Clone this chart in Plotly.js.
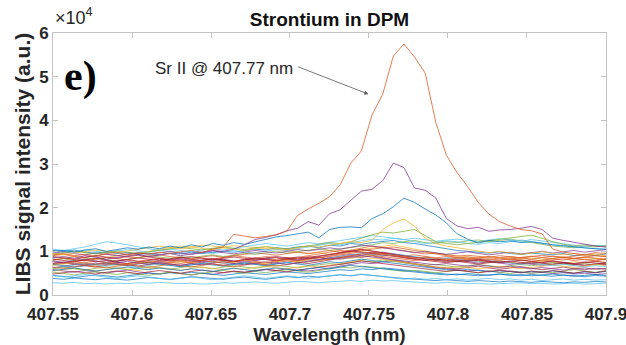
<!DOCTYPE html>
<html>
<head>
<meta charset="utf-8">
<script src="https://cdn.plot.ly/plotly-3.0.1.min.js"></script>
<style>html,body{margin:0;padding:0;background:#fff;}#chart{width:626px;height:345px;}</style>
</head>
<body>
<div id="chart"></div>
<script>
// Wavelength grid (nm)
const wavelength = [407.5500,407.5567,407.5635,407.5702,407.5769,407.5837,407.5904,407.5971,407.6038,407.6106,407.6173,407.6240,407.6308,407.6375,407.6442,407.6510,407.6577,407.6644,407.6712,407.6779,407.6846,407.6913,407.6981,407.7048,407.7115,407.7183,407.7250,407.7317,407.7385,407.7452,407.7519,407.7587,407.7654,407.7721,407.7788,407.7856,407.7923,407.7990,407.8058,407.8125,407.8192,407.8260,407.8327,407.8394,407.8462,407.8529,407.8596,407.8663,407.8731,407.8798,407.8865,407.8933,407.9000];

// Intensities in units of 10^4 a.u.
const bg01 = [1.02,1.00,1.03,0.98,0.96,0.99,0.95,0.97,0.93,0.95,0.92,0.96,0.94,0.98,0.95,0.97,1.00,0.98,1.02,1.05,1.03,1.08,1.06,1.10,1.12,1.08,1.14,1.12,1.18,1.16,1.20,1.22,1.25,1.20,1.18,1.14,1.10,1.06,1.02,1.00,0.98,0.96,0.99,0.95,0.93,0.96,0.94,0.92,0.95,0.90,0.93,0.91,0.94];
const bg02 = [0.72,0.75,0.70,0.74,0.78,0.73,0.76,0.71,0.74,0.77,0.72,0.75,0.79,0.74,0.78,0.76,0.80,0.77,0.82,0.79,0.84,0.81,0.86,0.83,0.88,0.85,0.90,0.94,0.98,1.02,1.05,1.08,1.10,1.06,1.02,0.97,0.93,0.90,0.86,0.84,0.81,0.83,0.80,0.82,0.79,0.81,0.78,0.80,0.83,0.79,0.82,0.80,0.84];
const bg03 = [0.86,0.84,0.88,0.85,0.82,0.86,0.89,0.92,0.96,1.00,1.05,1.08,1.12,1.10,1.14,1.12,1.10,1.13,1.11,1.08,1.06,1.04,1.02,0.98,0.95,0.97,0.93,0.96,1.00,1.04,1.08,1.12,1.15,1.10,1.05,1.00,0.96,0.92,0.90,0.87,0.85,0.88,0.84,0.86,0.83,0.85,0.82,0.84,0.87,0.83,0.86,0.84,0.82];
const bg04 = [0.58,0.55,0.52,0.56,0.53,0.50,0.54,0.57,0.53,0.50,0.48,0.52,0.49,0.46,0.50,0.47,0.51,0.54,0.52,0.55,0.58,0.56,0.60,0.57,0.55,0.58,0.62,0.66,0.70,0.74,0.72,0.76,0.78,0.74,0.70,0.66,0.62,0.60,0.58,0.55,0.57,0.54,0.52,0.55,0.53,0.50,0.52,0.49,0.51,0.48,0.50,0.47,0.49];
const bg05 = [0.80,0.83,0.79,0.82,0.85,0.81,0.78,0.82,0.86,0.90,0.87,0.84,0.88,0.85,0.89,0.92,0.88,0.91,0.95,0.93,0.97,1.00,0.96,0.99,1.03,1.06,1.02,1.05,1.08,1.12,1.15,1.20,1.18,1.22,1.25,1.20,1.18,1.22,1.20,1.24,1.26,1.22,1.25,1.28,1.24,1.20,1.16,1.12,1.10,1.08,1.12,1.10,1.14];
const bg06 = [0.28,0.27,0.29,0.26,0.27,0.25,0.27,0.26,0.28,0.27,0.29,0.28,0.26,0.27,0.25,0.26,0.28,0.27,0.29,0.30,0.28,0.27,0.29,0.31,0.30,0.28,0.30,0.32,0.33,0.31,0.34,0.32,0.33,0.31,0.30,0.28,0.27,0.29,0.28,0.26,0.27,0.25,0.26,0.27,0.28,0.26,0.27,0.25,0.26,0.27,0.25,0.26,0.27];
const bg07 = [0.62,0.66,0.70,0.67,0.64,0.68,0.72,0.69,0.66,0.70,0.74,0.71,0.68,0.72,0.75,0.71,0.68,0.72,0.76,0.73,0.70,0.74,0.78,0.75,0.72,0.76,0.80,0.84,0.88,0.86,0.90,0.85,0.80,0.76,0.72,0.68,0.64,0.62,0.60,0.63,0.66,0.62,0.59,0.62,0.65,0.61,0.58,0.61,0.64,0.60,0.62,0.59,0.61];
const bg08 = [0.45,0.42,0.40,0.43,0.46,0.44,0.41,0.44,0.47,0.50,0.48,0.51,0.49,0.52,0.50,0.47,0.45,0.48,0.51,0.49,0.47,0.50,0.53,0.51,0.49,0.52,0.55,0.58,0.56,0.60,0.58,0.62,0.60,0.57,0.54,0.52,0.50,0.48,0.46,0.49,0.47,0.45,0.48,0.46,0.44,0.47,0.45,0.43,0.46,0.44,0.42,0.45,0.43];
const bg09 = [0.90,0.93,0.88,0.86,0.90,0.94,0.91,0.87,0.85,0.89,0.92,0.88,0.86,0.83,0.87,0.90,0.86,0.89,0.93,0.97,0.94,0.91,0.95,0.98,0.95,0.99,1.02,0.98,1.03,1.08,1.12,1.09,1.05,1.02,0.98,0.94,0.96,0.92,0.89,0.91,0.88,0.86,0.90,0.87,0.85,0.88,0.91,0.88,0.86,0.89,0.92,0.90,0.88];
const bg10 = [0.68,0.71,0.74,0.70,0.67,0.71,0.68,0.72,0.75,0.72,0.69,0.73,0.76,0.73,0.70,0.74,0.77,0.74,0.71,0.75,0.72,0.76,0.79,0.76,0.80,0.78,0.82,0.86,0.84,0.88,0.92,0.95,0.92,0.88,0.84,0.86,0.82,0.79,0.77,0.80,0.76,0.74,0.77,0.75,0.73,0.76,0.78,0.75,0.73,0.76,0.74,0.77,0.75];
const bg11 = [0.78,0.75,0.79,0.82,0.78,0.75,0.78,0.81,0.77,0.74,0.77,0.80,0.83,0.79,0.76,0.79,0.82,0.78,0.75,0.79,0.82,0.86,0.83,0.80,0.84,0.81,0.85,0.89,0.93,0.90,0.95,0.98,0.94,0.90,0.86,0.83,0.80,0.77,0.80,0.76,0.73,0.76,0.73,0.70,0.73,0.71,0.68,0.71,0.74,0.70,0.68,0.71,0.69];
const bg12 = [0.60,0.63,0.60,0.57,0.61,0.64,0.61,0.58,0.62,0.65,0.62,0.59,0.63,0.66,0.63,0.60,0.64,0.67,0.64,0.61,0.65,0.68,0.65,0.62,0.66,0.69,0.72,0.70,0.74,0.78,0.76,0.80,0.77,0.74,0.71,0.68,0.70,0.67,0.64,0.67,0.70,0.67,0.64,0.67,0.70,0.67,0.71,0.74,0.71,0.68,0.72,0.69,0.73];
const bg13 = [0.98,1.02,1.06,1.10,1.16,1.22,1.19,1.15,1.10,1.06,1.02,1.00,0.97,1.01,0.98,0.95,0.99,1.02,0.98,0.96,1.00,1.04,1.02,1.06,1.10,1.14,1.18,1.15,1.20,1.24,1.28,1.26,1.30,1.27,1.22,1.18,1.20,1.24,1.22,1.18,1.16,1.20,1.18,1.22,1.26,1.22,1.18,1.15,1.12,1.10,1.08,1.06,1.04];
const bg14 = [0.76,0.73,0.77,0.80,0.76,0.79,0.75,0.72,0.76,0.79,0.82,0.78,0.81,0.77,0.80,0.83,0.79,0.76,0.80,0.84,0.81,0.78,0.82,0.79,0.83,0.86,0.82,0.86,0.90,0.94,0.98,0.95,0.90,0.86,0.82,0.79,0.76,0.74,0.77,0.74,0.71,0.74,0.77,0.74,0.71,0.75,0.72,0.70,0.73,0.70,0.68,0.71,0.73];
const bg15 = [0.38,0.36,0.39,0.37,0.35,0.38,0.36,0.34,0.37,0.40,0.38,0.36,0.39,0.42,0.40,0.38,0.36,0.39,0.41,0.38,0.36,0.39,0.42,0.40,0.43,0.41,0.44,0.46,0.44,0.47,0.45,0.42,0.40,0.38,0.36,0.35,0.33,0.35,0.33,0.31,0.33,0.31,0.30,0.32,0.30,0.29,0.31,0.30,0.28,0.30,0.29,0.31,0.30];
const bg16 = [0.80,0.84,0.81,0.78,0.82,0.86,0.83,0.80,0.77,0.81,0.84,0.80,0.77,0.81,0.85,0.82,0.86,0.90,0.87,0.84,0.88,0.85,0.82,0.86,0.90,0.94,0.97,1.02,1.00,1.05,1.00,0.96,0.93,0.89,0.92,0.88,0.85,0.88,0.85,0.82,0.85,0.88,0.85,0.82,0.86,0.89,0.86,0.83,0.87,0.84,0.87,0.90,0.88];
const bg17 = [0.55,0.58,0.61,0.58,0.55,0.59,0.62,0.59,0.56,0.60,0.63,0.60,0.57,0.61,0.64,0.61,0.58,0.62,0.59,0.63,0.66,0.62,0.60,0.64,0.67,0.64,0.68,0.72,0.76,0.80,0.84,0.82,0.78,0.74,0.70,0.67,0.64,0.62,0.65,0.62,0.60,0.63,0.66,0.63,0.60,0.63,0.66,0.69,0.66,0.63,0.66,0.70,0.68];
const bg18 = [0.96,0.99,0.95,0.92,0.96,0.93,0.90,0.94,0.97,0.93,0.96,1.00,0.96,0.93,0.97,1.01,0.97,0.94,0.98,1.02,0.99,0.96,1.00,1.04,1.01,1.05,1.08,1.05,1.10,1.14,1.12,1.08,1.04,1.00,0.97,1.00,0.96,0.93,0.96,0.99,0.95,0.92,0.95,0.98,0.94,0.97,1.00,0.96,0.99,1.02,0.98,1.01,1.04];
const bg19 = [0.52,0.49,0.46,0.50,0.53,0.50,0.47,0.51,0.48,0.45,0.49,0.52,0.49,0.46,0.50,0.53,0.56,0.53,0.50,0.54,0.51,0.55,0.58,0.55,0.52,0.56,0.60,0.64,0.62,0.66,0.64,0.60,0.57,0.54,0.57,0.54,0.51,0.54,0.57,0.54,0.51,0.55,0.52,0.49,0.53,0.50,0.54,0.51,0.55,0.58,0.55,0.52,0.56];
const bg20 = [0.62,0.65,0.68,0.72,0.69,0.66,0.70,0.67,0.64,0.68,0.71,0.68,0.65,0.69,0.72,0.76,0.73,0.70,0.74,0.71,0.68,0.72,0.75,0.72,0.76,0.80,0.84,0.88,0.92,0.96,0.93,0.90,0.94,0.91,0.88,0.85,0.82,0.85,0.82,0.79,0.76,0.79,0.76,0.73,0.70,0.73,0.70,0.67,0.70,0.67,0.64,0.67,0.65];
const bg21 = [0.88,0.85,0.82,0.86,0.90,0.87,0.84,0.88,0.91,0.87,0.84,0.81,0.85,0.88,0.84,0.81,0.84,0.87,0.84,0.81,0.85,0.88,0.85,0.82,0.86,0.89,0.93,0.97,1.01,0.98,0.95,0.92,0.88,0.85,0.82,0.79,0.82,0.79,0.76,0.79,0.82,0.78,0.75,0.78,0.75,0.72,0.75,0.78,0.75,0.72,0.76,0.73,0.70];
const bg22 = [0.70,0.67,0.64,0.67,0.70,0.73,0.70,0.67,0.71,0.74,0.71,0.68,0.65,0.69,0.72,0.69,0.66,0.70,0.73,0.70,0.67,0.71,0.74,0.71,0.68,0.72,0.76,0.74,0.78,0.82,0.79,0.76,0.73,0.70,0.66,0.63,0.60,0.58,0.56,0.59,0.56,0.53,0.56,0.54,0.51,0.54,0.52,0.55,0.53,0.50,0.53,0.51,0.54];
const bg23 = [0.64,0.61,0.65,0.68,0.65,0.62,0.66,0.69,0.66,0.63,0.67,0.70,0.67,0.64,0.68,0.71,0.68,0.65,0.69,0.72,0.69,0.66,0.70,0.73,0.76,0.79,0.82,0.86,0.90,0.94,0.91,0.88,0.85,0.82,0.79,0.82,0.79,0.76,0.79,0.82,0.79,0.76,0.80,0.83,0.80,0.77,0.80,0.83,0.80,0.84,0.81,0.78,0.82];
const bg24 = [0.48,0.51,0.54,0.51,0.48,0.52,0.55,0.52,0.49,0.53,0.56,0.53,0.50,0.54,0.57,0.54,0.51,0.55,0.52,0.56,0.59,0.56,0.53,0.57,0.60,0.63,0.66,0.70,0.74,0.78,0.75,0.72,0.68,0.65,0.62,0.60,0.57,0.54,0.57,0.54,0.51,0.54,0.57,0.54,0.51,0.55,0.52,0.56,0.53,0.50,0.54,0.51,0.55];
const bg25 = [0.44,0.41,0.44,0.47,0.44,0.41,0.38,0.41,0.44,0.41,0.38,0.35,0.38,0.41,0.38,0.35,0.38,0.41,0.44,0.41,0.38,0.41,0.44,0.41,0.38,0.41,0.44,0.47,0.44,0.48,0.45,0.42,0.39,0.36,0.39,0.36,0.38,0.35,0.37,0.34,0.36,0.38,0.35,0.37,0.34,0.36,0.33,0.35,0.37,0.34,0.36,0.34,0.35];
const bg26 = [0.72,0.75,0.72,0.69,0.73,0.70,0.74,0.77,0.73,0.70,0.74,0.71,0.68,0.72,0.69,0.73,0.76,0.72,0.69,0.73,0.76,0.73,0.70,0.74,0.77,0.81,0.85,0.82,0.86,0.90,0.87,0.84,0.81,0.78,0.75,0.72,0.69,0.72,0.69,0.66,0.69,0.66,0.63,0.66,0.63,0.60,0.63,0.60,0.57,0.60,0.58,0.61,0.59];
const bg27 = [0.56,0.59,0.62,0.58,0.55,0.58,0.61,0.64,0.61,0.58,0.62,0.59,0.56,0.60,0.57,0.54,0.58,0.61,0.58,0.55,0.59,0.62,0.59,0.56,0.60,0.63,0.60,0.64,0.68,0.65,0.62,0.60,0.58,0.55,0.52,0.50,0.48,0.46,0.48,0.46,0.44,0.46,0.48,0.45,0.47,0.44,0.46,0.48,0.45,0.43,0.45,0.47,0.45];
const bg28 = [0.82,0.79,0.76,0.80,0.84,0.80,0.77,0.81,0.85,0.82,0.79,0.83,0.86,0.82,0.79,0.83,0.80,0.77,0.81,0.85,0.82,0.79,0.83,0.87,0.84,0.88,0.92,0.96,1.00,1.04,1.01,0.97,0.93,0.89,0.86,0.83,0.80,0.83,0.80,0.77,0.80,0.77,0.74,0.77,0.80,0.77,0.74,0.77,0.74,0.71,0.74,0.77,0.74];
const bg29 = [1.05,1.02,0.99,1.03,1.00,0.97,1.01,1.04,1.01,0.98,1.02,1.05,1.02,0.99,1.03,1.06,1.03,1.07,1.10,1.14,1.18,1.15,1.12,1.16,1.20,1.17,1.21,1.25,1.28,1.32,1.36,1.33,1.30,1.27,1.30,1.26,1.23,1.26,1.28,1.25,1.22,1.26,1.29,1.26,1.23,1.27,1.24,1.20,1.17,1.14,1.11,1.14,1.12];
const bg30 = [0.70,0.73,0.76,0.73,0.70,0.74,0.71,0.68,0.72,0.75,0.78,0.75,0.72,0.76,0.79,0.76,0.73,0.77,0.80,0.77,0.74,0.78,0.81,0.78,0.82,0.85,0.88,0.92,0.95,0.99,0.96,0.93,0.90,0.87,0.84,0.87,0.84,0.81,0.84,0.87,0.84,0.81,0.85,0.88,0.85,0.82,0.86,0.89,0.86,0.83,0.87,0.84,0.81];
const sampleGreen = [0.94,0.97,1.00,0.97,0.94,0.98,1.01,0.98,0.95,0.99,1.02,1.06,1.09,1.06,1.03,1.07,1.10,1.07,1.04,1.08,1.11,1.08,1.05,1.09,1.12,1.16,1.20,1.18,1.22,1.30,1.38,1.44,1.42,1.46,1.50,1.36,1.22,1.18,1.15,1.18,1.21,1.24,1.27,1.30,1.34,1.37,1.30,1.22,1.16,1.12,1.15,1.12,1.10];
const sampleYellow = [0.95,0.92,0.96,0.99,1.03,1.00,0.97,1.01,1.05,1.08,1.12,1.09,1.06,1.10,1.07,1.04,1.08,1.05,1.02,1.06,1.10,1.07,1.04,1.08,1.12,1.10,1.14,1.18,1.22,1.20,1.25,1.50,1.65,1.74,1.58,1.30,1.18,1.12,1.08,1.04,1.00,0.97,1.00,0.96,0.93,0.96,0.99,0.95,0.92,0.95,0.91,0.94,0.90];
const sampleBlue = [1.00,1.02,0.98,1.03,1.06,1.00,1.04,1.08,1.05,1.10,1.06,1.12,1.08,1.15,1.10,1.18,1.14,1.20,1.16,1.22,1.28,1.33,1.36,1.40,1.44,1.31,1.50,1.55,1.56,1.54,1.75,1.86,2.02,2.22,2.12,1.97,1.83,1.65,1.40,1.28,1.19,1.25,1.22,1.24,1.20,1.22,1.18,1.15,1.13,1.10,1.08,1.06,1.05];
const samplePurple = [0.85,0.88,0.84,0.90,0.87,0.82,0.86,0.90,0.93,0.88,0.92,0.95,0.90,0.94,0.98,1.02,1.00,1.05,1.15,1.27,1.32,1.38,1.47,1.53,1.68,1.60,1.86,1.95,2.17,2.38,2.42,2.62,3.02,2.92,2.45,2.40,2.22,1.75,1.58,1.52,1.55,1.46,1.49,1.50,1.53,1.57,1.50,1.30,1.25,1.21,1.17,1.12,1.10];
const sampleOrange = [0.92,0.95,0.90,0.93,0.88,0.95,0.98,0.92,0.96,0.94,0.98,0.95,0.99,1.02,0.97,1.05,1.10,1.39,1.35,1.31,1.34,1.38,1.47,1.82,1.97,2.10,2.25,2.52,3.02,3.30,4.12,4.60,5.47,5.75,5.45,5.08,3.95,3.20,2.80,2.48,2.12,1.85,1.68,1.58,1.50,1.47,1.40,1.05,0.98,0.95,0.92,0.97,0.95];

const yTicks = [0,1,2,3,4,5,6];
const xTicks = [407.55,407.6,407.65,407.7,407.75,407.8,407.85,407.9];
const xTickText = ['407.55','407.6','407.65','407.7','407.75','407.8','407.85','407.9'];

const C = ['#0072BD','#D95319','#EDB120','#7E2F8E','#77AC30','#4DBEEE','#A2142F'];
const background = [bg01,bg02,bg03,bg04,bg05,bg06,bg07,bg08,bg09,bg10,bg11,bg12,bg13,bg14,bg15,bg16,bg17,bg18,bg19,bg20,bg21,bg22,bg23,bg24,bg25,bg26,bg27,bg28,bg29,bg30];
const bgColors = [C[0],C[1],C[2],C[3],C[4],C[5],C[6],C[0],C[1],C[2],C[3],C[4],C[5],C[6],C[0],C[1],C[2],C[3],C[4],C[5],C[6],C[0],C[1],C[6],C[5],C[3],C[0],C[6],C[5],C[1]];

const traces = [];
background.forEach((s,i)=>{
  traces.push({x: wavelength, y: s, type:'scatter', mode:'lines', line:{color:bgColors[i], width:1}, opacity:0.7, hoverinfo:'skip'});
});
[[sampleGreen,C[4]],[sampleYellow,C[2]],[sampleBlue,C[0]],[samplePurple,C[3]],[sampleOrange,C[1]]].forEach(([s,c])=>{
  traces.push({x: wavelength, y: s, type:'scatter', mode:'lines', line:{color:c, width:1}, opacity:0.75, hoverinfo:'skip'});
});

const tickFont = {family:'Arial, "Liberation Sans", sans-serif', size:17, color:'#262626', weight:'bold'};
const axisCommon = {
  showline:true, mirror:'ticks', linecolor:'#c4c4c4', linewidth:1,
  ticks:'inside', ticklen:5, tickcolor:'#c4c4c4', tickwidth:1,
  showgrid:false, zeroline:false, tickfont: tickFont, ticklabeloverflow:'allow'
};

const layout = {
  width:626, height:345,
  margin:{l:53, r:20, t:33, b:50},
  paper_bgcolor:'#ffffff', plot_bgcolor:'#ffffff',
  showlegend:false,
  title:{text:'Strontium in DPM', font:{family:'Arial, "Liberation Sans", sans-serif', size:19, color:'#111', weight:'bold'},
         x:0.5, xref:'paper', y:0.945, yref:'container', yanchor:'middle'},
  xaxis: Object.assign({}, axisCommon, {
    range:[407.55, 407.90001], tickvals:xTicks, ticktext:xTickText, ticklabelstandoff:4,
    title:{text:'Wavelength (nm)', font:{family:'Arial, "Liberation Sans", sans-serif', size:19, color:'#262626', weight:'bold'}, standoff:8}
  }),
  yaxis: Object.assign({}, axisCommon, {
    range:[0, 6], tickvals:yTicks, ticktext:yTicks.map(String),
    title:{text:'LIBS signal intensity (a.u.)', font:{family:'Arial, "Liberation Sans", sans-serif', size:21, color:'#262626', weight:'bold'}, standoff:2}
  }),
  annotations:[
    {text:'×10<sup>4</sup>', xref:'paper', yref:'paper', x:0, y:(295-17)/262, xanchor:'left', yanchor:'middle', showarrow:false,
     font:{family:'Arial, "Liberation Sans", sans-serif', size:18, color:'#262626'}},
    {text:'e)', xref:'paper', yref:'paper', x:(80-53)/553, y:(295-76)/262, xanchor:'center', yanchor:'middle', showarrow:false,
     font:{family:'"Liberation Serif", "Times New Roman", serif', size:42, color:'#000', weight:'bold'}},
    {text:'Sr II @ 407.77 nm', xref:'paper', yref:'paper', x:(223.5-53)/553, y:(295-68.5)/262, xanchor:'center', yanchor:'middle', showarrow:false,
     font:{family:'Arial, "Liberation Sans", sans-serif', size:17, color:'#262626'}},
    {text:'', xref:'x', yref:'y', x:407.7496, y:4.60, showarrow:true, ax:-72, ay:-28,
     arrowhead:2, arrowsize:1, arrowwidth:0.8, arrowcolor:'#555', standoff:0}
  ]
};

Plotly.newPlot('chart', traces, layout, {displayModeBar:false, staticPlot:true});
</script>
</body>
</html>
